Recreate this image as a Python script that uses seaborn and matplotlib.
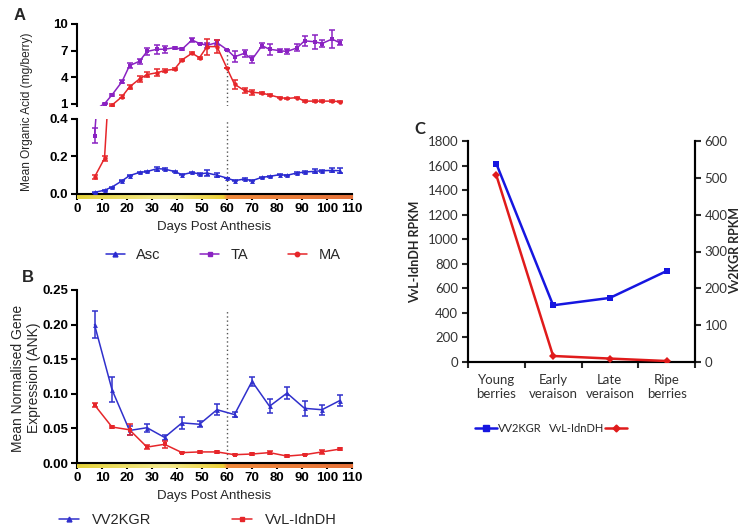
import numpy as np
import seaborn as sns
import matplotlib
matplotlib.use("Agg")
import matplotlib.pyplot as plt
from matplotlib.lines import Line2D
from matplotlib.colors import LinearSegmentedColormap

# ---------------- Panel A data ----------------
days_a = [7, 11, 14, 18, 21, 25, 28, 32, 35, 39, 42, 46, 49, 52, 56, 60,
          63, 67, 70, 74, 77, 81, 84, 88, 91, 95, 98, 102, 105]
asc = [0.009, 0.02, 0.037, 0.07, 0.098, 0.115, 0.12, 0.135, 0.133, 0.12, 0.103,
       0.115, 0.107, 0.112, 0.1, 0.085, 0.071, 0.08, 0.071, 0.089, 0.094, 0.103,
       0.1, 0.112, 0.117, 0.121, 0.124, 0.126, 0.124]
asc_err = [0.004, 0.004, 0.003, 0.003, 0.004, 0.004, 0.004, 0.01, 0.005, 0.003,
           0.003, 0.004, 0.004, 0.015, 0.01, 0.0, 0.004, 0.004, 0.004, 0.003,
           0.004, 0.003, 0.003, 0.004, 0.004, 0.01, 0.006, 0.01, 0.012]
ta = [0.31, 1.0, 2.0, 3.5, 5.3, 5.8, 6.9, 7.15, 7.15, 7.33, 7.15, 8.2, 7.8, 7.6,
      7.9, 7.1, 6.3, 6.7, 6.0, 7.55, 7.15, 7.0, 6.9, 7.3, 8.1, 8.0, 7.8, 8.3, 7.9]
ta_err = [0.04, 0.05, 0.1, 0.2, 0.3, 0.3, 0.4, 0.5, 0.4, 0.1, 0.1, 0.2, 0.1, 0.3,
          0.3, 0.0, 0.6, 0.4, 0.4, 0.3, 0.6, 0.2, 0.3, 0.4, 0.6, 0.8, 0.4, 1.0, 0.3]
ma = [0.09, 0.19, 0.85, 1.8, 2.9, 3.8, 4.3, 4.5, 4.75, 4.9, 5.95, 6.7, 6.2, 7.45,
      7.45, 5.0, 3.2, 2.5, 2.3, 2.2, 2.0, 1.7, 1.6, 1.7, 1.3, 1.3, 1.3, 1.3, 1.25]
ma_err = [0.012, 0.015, 0.1, 0.2, 0.2, 0.3, 0.3, 0.4, 0.2, 0.1, 0.1, 0.1, 0.1, 0.9,
          0.7, 0.0, 0.5, 0.3, 0.3, 0.1, 0.1, 0.1, 0.1, 0.1, 0.1, 0.1, 0.1, 0.1, 0.1]

# ---------------- Panel B data ----------------
days_b = [7, 14, 21, 28, 35, 42, 49, 56, 63, 70, 77, 84, 91, 98, 105]
vv2kgr = [0.200, 0.106, 0.047, 0.051, 0.037, 0.058, 0.056, 0.077, 0.070, 0.118,
          0.082, 0.101, 0.079, 0.077, 0.090]
vv2kgr_err = [0.020, 0.018, 0.007, 0.006, 0.004, 0.009, 0.004, 0.008, 0.004,
              0.007, 0.010, 0.009, 0.011, 0.007, 0.008]
idndh = [0.084, 0.052, 0.048, 0.023, 0.027, 0.015, 0.016, 0.016, 0.012, 0.013,
         0.015, 0.010, 0.012, 0.016, 0.020]
idndh_err = [0.003, 0.001, 0.008, 0.003, 0.005, 0.001, 0.001, 0.001, 0.001,
             0.002, 0.002, 0.001, 0.001, 0.003, 0.001]

# ---------------- Panel C data ----------------
stages = ["Young\nberries", "Early\nveraison", "Late\nveraison", "Ripe\nberries"]
vv2kgr_rpkm = [538, 154, 174, 247]
idndh_rpkm = [1520, 49, 28, 8]

veraison_day = 60

# ---------------- style ----------------
sns.set_style("ticks")
plt.rcParams["font.family"] = ["Liberation Sans", "DejaVu Sans"]

W, H = 745, 529
fig = plt.figure(figsize=(W / 100, H / 100), dpi=100)


def rect(x0, y_top, x1, y_bot):
    return [x0 / W, 1 - y_bot / H, (x1 - x0) / W, (y_bot - y_top) / H]


C_ASC, C_TA, C_MA = "#2b2bd0", "#8a22c2", "#e6262a"
C_BBLUE, C_BRED = "#3030cc", "#e6262a"
C_CBLUE, C_CRED = "#1616e0", "#e01b1b"

band_cmap = LinearSegmentedColormap.from_list(
    "band",
    [(0.0, "#e4d23a"), (0.32, "#f3e98e"), (0.53, "#ecd038"),
     (0.545, "#f08a3c"), (1.0, "#e6723a")])

SP_W = 1.5


def style_prism(ax, bottom=True):
    sns.despine(ax=ax, top=True, right=True, bottom=not bottom)
    for s in ["left", "bottom"]:
        ax.spines[s].set_linewidth(SP_W)
        ax.spines[s].set_color("black")
    ax.tick_params(direction="out", length=4.5, width=SP_W, labelsize=9.5,
                   pad=2, colors="black")
    ax.set_facecolor("none")


def bold_ticks(ax):
    for lab in ax.get_xticklabels() + ax.get_yticklabels():
        lab.set_fontweight("bold")


def draw_band(ax, h_px=5):
    h = h_px / (ax.get_position().height * H)
    grad = np.linspace(0, 1, 256).reshape(1, -1)
    ax.imshow(grad, cmap=band_cmap, aspect="auto", extent=[0, 110, -h, 0],
              transform=ax.get_xaxis_transform(), clip_on=False, zorder=1)


def series(ax, x, y, err, color, marker, ms=3.5):
    sns.lineplot(x=x, y=y, ax=ax, color=color, marker=marker, markersize=ms,
                 markeredgewidth=0, linewidth=1.1, legend=False, zorder=3)
    ax.errorbar(x, y, yerr=err, fmt="none", ecolor=color, elinewidth=1.1,
                capsize=2.5, capthick=1.1, zorder=3)


# ---------------- Panel A ----------------
axA_top = fig.add_axes(rect(77, 24, 352, 106))
axA_bot = fig.add_axes(rect(77, 119, 352, 194))

for ax in (axA_top, axA_bot):
    series(ax, days_a, asc, asc_err, C_ASC, "^", 3.5)
    series(ax, days_a, ta, ta_err, C_TA, "s", 3.5)
    series(ax, days_a, ma, ma_err, C_MA, "o", 3.2)

axA_top.vlines(veraison_day, 0.75, 7.3, colors="#555555", linestyles=(0, (1, 2)),
               linewidth=1)
axA_bot.vlines(veraison_day, 0, 0.4, colors="#555555", linestyles=(0, (1, 2)),
               linewidth=1)

axA_top.set_xlim(0, 110)
axA_top.set_ylim(0.75, 10)
axA_top.set_yticks([1, 4, 7, 10])
axA_top.set_yticklabels(["1", "4", "7", "10"])
axA_top.set_xticks([])
style_prism(axA_top, bottom=False)

axA_bot.set_xlim(0, 110)
axA_bot.set_ylim(0, 0.4)
axA_bot.set_yticks([0.0, 0.2, 0.4])
axA_bot.set_yticklabels(["0.0", "0.2", "0.4"])
axA_bot.set_xticks(range(0, 111, 10))
style_prism(axA_bot)
draw_band(axA_bot)
axA_bot.set_xlim(0, 110)
axA_bot.set_ylim(0, 0.4)
axA_bot.set_xlabel("Days Post Anthesis", fontsize=9.5, labelpad=4)
axA_bot.set_ylabel("")
axA_top.set_ylabel("")
bold_ticks(axA_top)
bold_ticks(axA_bot)

fig.text(27 / W, 1 - 112 / H, "Mean Organic Acid (mg/berry)", rotation=90,
         ha="center", va="center", fontsize=8.6)

legA = [Line2D([], [], color=C_ASC, marker="^", markersize=3.5, lw=1.1),
        Line2D([], [], color=C_TA, marker="s", markersize=3.5, lw=1.1),
        Line2D([], [], color=C_MA, marker="o", markersize=3.2, lw=1.1)]
fig.legend(legA, ["Asc", "TA", "MA"], loc="center", ncol=3,
           bbox_to_anchor=(223 / W, 1 - 255 / H), frameon=False, fontsize=10.5,
           handlelength=1.3, columnspacing=2.7, handletextpad=0.8)

# ---------------- Panel B ----------------
axB = fig.add_axes(rect(77, 290, 352, 463))
series(axB, days_b, vv2kgr, vv2kgr_err, C_BBLUE, "^", 3.5)
series(axB, days_b, idndh, idndh_err, C_BRED, "s", 3.2)
axB.vlines(veraison_day, 0, 0.22, colors="#555555", linestyles=(0, (1, 2)),
           linewidth=1)
axB.set_xticks(range(0, 111, 10))
axB.set_yticks([0.0, 0.05, 0.10, 0.15, 0.20, 0.25])
axB.set_yticklabels(["0.00", "0.05", "0.10", "0.15", "0.20", "0.25"])
style_prism(axB)
draw_band(axB)
axB.set_xlim(0, 110)
axB.set_ylim(0, 0.25)
axB.set_xlabel("Days Post Anthesis", fontsize=9.5, labelpad=4)
axB.set_ylabel("")
bold_ticks(axB)
fig.text(26 / W, 1 - 378 / H, "Mean Normalised Gene\nExpression (ANK)",
         rotation=90, ha="center", va="center", fontsize=10, linespacing=1.1)

legB = [Line2D([], [], color=C_BBLUE, marker="^", markersize=3.5, lw=1.1),
        Line2D([], [], color=C_BRED, marker="s", markersize=3.2, lw=1.1)]
fig.legend(legB, ["VV2KGR", "VvL-IdnDH"], loc="center", ncol=2,
           bbox_to_anchor=(198 / W, 1 - 520 / H), frameon=False, fontsize=10.5,
           handlelength=1.4, columnspacing=5.5, handletextpad=0.9)

# ---------------- Panel C ----------------
CFONT = ["Lato", "DejaVu Sans"]
axC = fig.add_axes(rect(468, 141, 695, 362))
xpos = np.arange(len(stages))
sns.lineplot(x=xpos, y=idndh_rpkm, ax=axC, color=C_CRED, marker="D",
             markersize=4, markeredgewidth=0, linewidth=1.8, legend=False,
             zorder=3)
axC.set_xlim(-0.5, len(stages) - 0.5)
axC.set_ylim(0, 1800)
axC.set_yticks(range(0, 1801, 200))
axC.set_xticks(xpos)
axC.set_xticklabels(stages)
axC.set_xticks(np.arange(-0.5, len(stages), 1.0), minor=True)
axC.tick_params(axis="x", which="major", length=0, pad=9)
axC.tick_params(axis="x", which="minor", length=4, width=1.5, direction="out")
axC.tick_params(axis="y", length=4, width=1.5, direction="out", pad=3)
axC.set_xlabel("")
axC.set_ylabel("")
fig.text(415 / W, 1 - 252 / H, "VvL-IdnDH RPKM", rotation=90, ha="center",
         va="center", fontsize=9, fontweight="bold", family=CFONT)

axC2 = axC.twinx()
sns.lineplot(x=xpos, y=vv2kgr_rpkm, ax=axC2, color=C_CBLUE, marker="s",
             markersize=5, markeredgewidth=0, linewidth=1.8, legend=False,
             zorder=3)
axC2.set_ylim(0, 600)
axC2.set_yticks(range(0, 601, 100))
axC2.tick_params(axis="y", length=4, width=1.5, direction="out", pad=3)
axC2.set_ylabel("")
fig.text(735 / W, 1 - 250 / H, "Vv2KGR RPKM", rotation=90, ha="center",
         va="center", fontsize=9, fontweight="bold", family=CFONT)
axC.set_zorder(axC2.get_zorder() + 1)
axC.patch.set_visible(False)

for ax in (axC, axC2):
    for s in ax.spines.values():
        s.set_linewidth(1.5)
        s.set_color("black")
    ax.spines["top"].set_visible(False)
    for lab in ax.get_xticklabels() + ax.get_yticklabels():
        lab.set_family(CFONT)
        lab.set_fontsize(9.5)
        lab.set_color("#333333")

fig.legend([Line2D([], [], color=C_CBLUE, marker="s", markersize=4, lw=1.8)],
           ["VV2KGR"], loc="center", bbox_to_anchor=(508 / W, 1 - 428 / H),
           frameon=False, prop={"family": CFONT, "size": 8},
           handlelength=2.0, handletextpad=0.1)
fig.legend([Line2D([], [], color=C_CRED, marker="D", markersize=3.5, lw=1.8)],
           ["VvL-IdnDH"], loc="center", bbox_to_anchor=(588 / W, 1 - 428 / H),
           frameon=False, prop={"family": CFONT, "size": 8},
           handlelength=2.0, handletextpad=0.1, markerfirst=False)

# ---------------- panel letters ----------------
fig.text(14 / W, 1 - 15 / H, "A", fontsize=12, fontweight="bold", va="center")
fig.text(22 / W, 1 - 278 / H, "B", fontsize=12, fontweight="bold", va="center")
fig.text(414 / W, 1 - 129 / H, "C", fontsize=12, fontweight="bold", va="center",
         family=CFONT)

fig.savefig("out.png", dpi=100)
